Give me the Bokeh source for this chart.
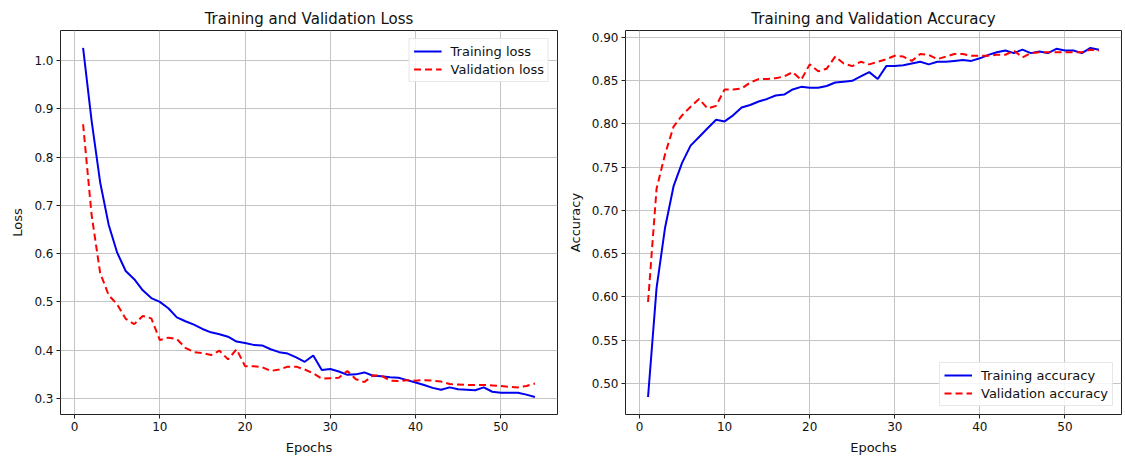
from bokeh.plotting import figure
from bokeh.layouts import row
from bokeh.models import Range1d, FixedTicker, NumeralTickFormatter, Legend, LegendItem
from bokeh.embed import file_html
from bokeh.resources import INLINE

epochs = list(range(1, 55))

train_loss = [1.026, 0.875, 0.748, 0.660, 0.602, 0.564, 0.547, 0.524, 0.508, 0.500,
              0.487, 0.468, 0.460, 0.453, 0.444, 0.437, 0.433, 0.428, 0.418, 0.415,
              0.411, 0.410, 0.402, 0.396, 0.393, 0.385, 0.376, 0.389, 0.359, 0.361,
              0.356, 0.349, 0.350, 0.354, 0.347, 0.346, 0.344, 0.343, 0.338, 0.333,
              0.328, 0.322, 0.318, 0.323, 0.319, 0.318, 0.317, 0.323, 0.314, 0.312,
              0.312, 0.312, 0.308, 0.303]
val_loss = [0.868, 0.680, 0.560, 0.514, 0.495, 0.465, 0.454, 0.471, 0.466, 0.421,
            0.426, 0.423, 0.405, 0.396, 0.394, 0.390, 0.399, 0.381, 0.402, 0.367,
            0.367, 0.365, 0.357, 0.360, 0.366, 0.366, 0.360, 0.352, 0.341, 0.342,
            0.343, 0.357, 0.340, 0.334, 0.348, 0.347, 0.337, 0.336, 0.338, 0.337,
            0.338, 0.337, 0.335, 0.330, 0.329, 0.328, 0.328, 0.328, 0.327, 0.326,
            0.324, 0.323, 0.326, 0.331]
train_acc = [0.484, 0.610, 0.680, 0.728, 0.755, 0.775, 0.785, 0.795, 0.805, 0.803,
             0.810, 0.819, 0.822, 0.826, 0.829, 0.833, 0.834, 0.840, 0.843, 0.842,
             0.842, 0.844, 0.848, 0.849, 0.850, 0.855, 0.860, 0.852, 0.867, 0.867,
             0.868, 0.870, 0.872, 0.869, 0.872, 0.872, 0.873, 0.874, 0.873, 0.876,
             0.880, 0.883, 0.885, 0.882, 0.886, 0.882, 0.884, 0.882, 0.887, 0.885,
             0.885, 0.882, 0.888, 0.886]
val_acc = [0.594, 0.725, 0.765, 0.797, 0.810, 0.820, 0.829, 0.818, 0.821, 0.840,
           0.840, 0.841, 0.848, 0.852, 0.852, 0.853, 0.855, 0.860, 0.851, 0.869,
           0.861, 0.864, 0.878, 0.870, 0.867, 0.872, 0.869, 0.872, 0.875, 0.879,
           0.878, 0.873, 0.881, 0.880, 0.875, 0.878, 0.881, 0.881, 0.879, 0.879,
           0.879, 0.880, 0.880, 0.885, 0.877, 0.882, 0.883, 0.883, 0.883, 0.883,
           0.883, 0.883, 0.886, 0.885]

x_ticks = [0, 10, 20, 30, 40, 50]
loss_ticks = [0.3, 0.4, 0.5, 0.6, 0.7, 0.8, 0.9, 1.0]
acc_ticks = [0.50, 0.55, 0.60, 0.65, 0.70, 0.75, 0.80, 0.85, 0.90]

FONT = "DejaVu Sans"
BLUE = "#0000ee"
RED = "#ff0000"


def padded(vals, frac=0.05):
    lo, hi = min(vals), max(vals)
    span = hi - lo
    return Range1d(lo - frac * span, hi + frac * span)


def make_fig(title, ylabel, y_range, yticks, yfmt, border_left, border_right, fw):
    p = figure(frame_width=fw, frame_height=384,
               min_border_left=border_left, min_border_right=border_right,
               min_border_top=30, min_border_bottom=40,
               x_range=padded(epochs), y_range=y_range,
               output_backend="svg", toolbar_location=None, title=title)
    p.title.align = "center"
    p.title.text_font = FONT
    p.title.text_font_size = "15px"
    p.title.text_font_style = "normal"
    p.title.text_color = "#111111"
    p.title.standoff = 5
    p.background_fill_color = "white"
    p.border_fill_color = "white"
    p.outline_line_color = "#222222"
    p.outline_line_width = 1
    p.xaxis.axis_label = "Epochs"
    p.yaxis.axis_label = ylabel
    p.xaxis.ticker = FixedTicker(ticks=x_ticks)
    p.yaxis.ticker = FixedTicker(ticks=yticks)
    p.yaxis.formatter = NumeralTickFormatter(format=yfmt)
    for ax in (p.xaxis, p.yaxis):
        ax.axis_line_color = None
        ax.major_tick_in = 0
        ax.major_tick_out = 4
        ax.major_tick_line_color = "#222222"
        ax.minor_tick_line_color = None
        ax.major_label_text_font = FONT
        ax.major_label_text_font_size = "12px"
        ax.major_label_text_color = "#111111"
        ax.major_label_standoff = 3
        ax.axis_label_text_font = FONT
        ax.axis_label_text_font_size = "13px"
        ax.axis_label_text_font_style = "normal"
        ax.axis_label_text_color = "#111111"
        ax.axis_label_standoff = 6
    p.grid.grid_line_color = "#c4c4c4"
    p.grid.grid_line_width = 1
    return p


def add_legend(p, items, location):
    leg = Legend(items=items, location=location)
    leg.label_text_font = FONT
    leg.label_text_font_size = "13px"
    leg.label_text_color = "#111111"
    leg.glyph_width = 28
    leg.glyph_height = 16
    leg.label_height = 16
    leg.label_standoff = 9
    leg.spacing = 2
    leg.padding = 4
    leg.margin = 8
    leg.border_line_color = "#d0d0d0"
    leg.border_line_width = 1
    leg.background_fill_color = "white"
    leg.background_fill_alpha = 0.85
    p.add_layout(leg, "center")


p1 = make_fig("Training and Validation Loss", "Loss",
              padded(train_loss + val_loss), loss_ticks, "0.0", 60, 7, 497)
l1 = p1.line(epochs, train_loss, line_color=BLUE, line_width=2)
l2 = p1.line(epochs, val_loss, line_color=RED, line_width=2, line_dash="7 4")
add_legend(p1, [LegendItem(label="Training loss", renderers=[l1]),
                LegendItem(label="Validation loss", renderers=[l2])], "top_right")

p2 = make_fig("Training and Validation Accuracy", "Accuracy",
              padded(train_acc + val_acc), acc_ticks, "0.00", 60, 1, 496)
a1 = p2.line(epochs, train_acc, line_color=BLUE, line_width=2)
a2 = p2.line(epochs, val_acc, line_color=RED, line_width=2, line_dash="7 4")
add_legend(p2, [LegendItem(label="Training accuracy", renderers=[a1]),
                LegendItem(label="Validation accuracy", renderers=[a2])], "bottom_right")

layout = row(p1, p2)
open("out.html", "w").write(file_html(layout, INLINE))
